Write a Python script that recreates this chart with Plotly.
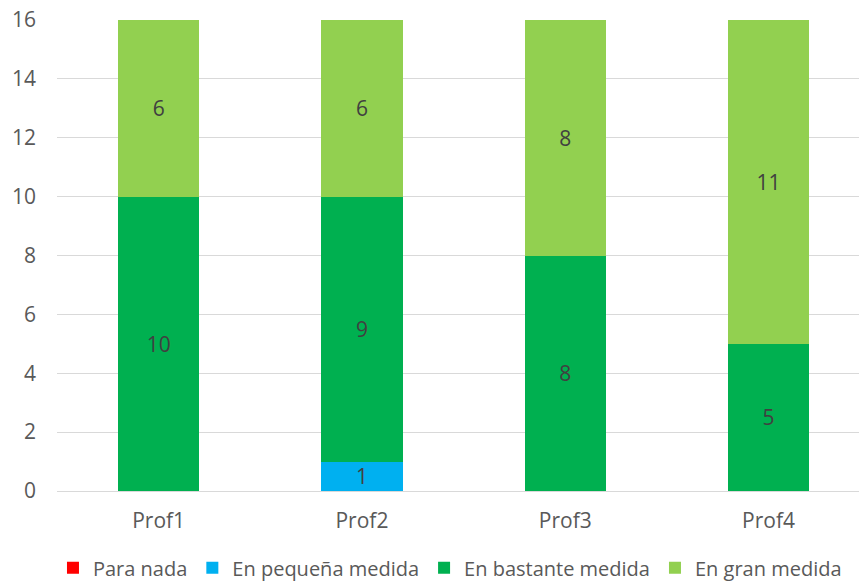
import plotly.graph_objects as go

categories = ["Prof1", "Prof2", "Prof3", "Prof4"]
series_names = ["Para nada", "En pequeña medida", "En bastante medida", "En gran medida"]
para_nada = [0, 0, 0, 0]
en_pequena = [0, 1, 0, 0]
en_bastante = [10, 9, 8, 5]
en_gran = [6, 6, 8, 11]
series_values = [para_nada, en_pequena, en_bastante, en_gran]
series_colors = ["#FF0000", "#00B0F0", "#00B050", "#92D050"]
y_ticks = [0, 2, 4, 6, 8, 10, 12, 14, 16]

FONT = "Open Sans"
TEXT_GRAY = "#595959"

fig = go.Figure()
for name, vals, color in zip(series_names, series_values, series_colors):
    fig.add_trace(go.Bar(
        name=name,
        x=categories,
        y=vals,
        marker=dict(color=color, line=dict(width=0)),
        text=[str(v) if v else "" for v in vals],
        textposition="inside",
        insidetextanchor="middle",
        constraintext="none",
        textangle=0,
        textfont=dict(family=FONT, size=21, color="#404040"),
        hoverinfo="skip",
    ))

fig.update_layout(
    barmode="stack",
    bargap=0.6,
    width=859,
    height=584,
    margin=dict(l=57, r=0, t=20, b=93, autoexpand=False),
    plot_bgcolor="white",
    paper_bgcolor="white",
    font=dict(family=FONT, size=21, color=TEXT_GRAY),
    uniformtext=dict(minsize=21, mode="show"),
    xaxis=dict(
        range=[-0.5, 3.445],
        automargin=False,
        showgrid=False,
        showline=False,
        ticks="",
        tickfont=dict(family=FONT, size=21, color=TEXT_GRAY),
        ticklabelstandoff=15,
    ),
    yaxis=dict(
        range=[0, 16],
        automargin=False,
        tickvals=y_ticks,
        showgrid=True,
        gridcolor="#D9D9D9",
        gridwidth=1,
        zeroline=True,
        zerolinecolor="#D9D9D9",
        zerolinewidth=1,
        showline=False,
        ticks="",
        tickfont=dict(family=FONT, size=21, color=TEXT_GRAY),
        ticklabelstandoff=20,
    ),
    legend=dict(
        orientation="h",
        x=0.49,
        xanchor="center",
        y=-0.163,
        yanchor="middle",
        font=dict(family=FONT, size=20, color=TEXT_GRAY),
        itemwidth=30,
        tracegroupgap=0,
        traceorder="normal",
    ),
)

fig.write_html("out.html")
